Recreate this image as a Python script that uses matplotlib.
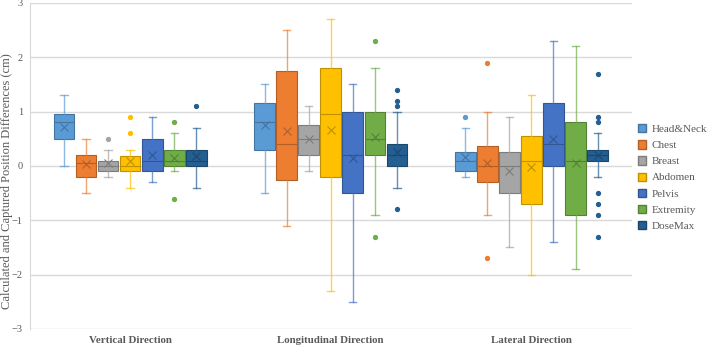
import matplotlib
matplotlib.use("Agg")
import matplotlib.pyplot as plt
from matplotlib.patches import Patch
import matplotlib.colors as mcolors

plt.rcParams['font.family'] = ['Liberation Serif', 'DejaVu Serif']

directions = ["Vertical Direction", "Longitudinal Direction", "Lateral Direction"]
series = ["Head&Neck", "Chest", "Breast", "Abdomen", "Pelvis", "Extremity", "DoseMax"]
colors = ["#5B9BD5", "#ED7D31", "#A5A5A5", "#FFC000", "#4472C4", "#70AD47", "#255E91"]

# per series: values for [Vertical, Longitudinal, Lateral]
whislo = [[0.0, -0.5, -0.2], [-0.5, -1.1, -0.9], [-0.2, -0.1, -1.5], [-0.4, -2.3, -2.0],
          [-0.3, -2.5, -1.4], [-0.1, -0.9, -1.9], [-0.4, -0.4, -0.2]]
q1 = [[0.5, 0.3, -0.1], [-0.2, -0.25, -0.3], [-0.1, 0.2, -0.5], [-0.1, -0.2, -0.7],
      [-0.1, -0.5, 0.0], [0.0, 0.2, -0.9], [0.0, 0.0, 0.1]]
med = [[0.8, 0.8, 0.1], [0.05, 0.4, 0.0], [0.0, 0.5, 0.0], [0.0, 0.95, 0.1],
       [0.1, 0.2, 0.4], [0.1, 0.5, 0.1], [0.1, 0.2, 0.2]]
q3 = [[0.95, 1.15, 0.25], [0.2, 1.74, 0.37], [0.1, 0.75, 0.25], [0.18, 1.8, 0.55],
      [0.5, 1.0, 1.15], [0.3, 1.0, 0.8], [0.3, 0.4, 0.3]]
whishi = [[1.3, 1.5, 0.7], [0.5, 2.5, 1.0], [0.3, 1.1, 0.9], [0.3, 2.7, 1.3],
          [0.9, 1.5, 2.3], [0.6, 1.8, 2.2], [0.7, 1.0, 0.6]]
means = [[0.72, 0.75, 0.16], [0.03, 0.64, 0.05], [0.05, 0.5, -0.1], [0.09, 0.67, -0.01],
         [0.21, 0.14, 0.5], [0.15, 0.54, 0.05], [0.19, 0.25, 0.2]]
outliers = [[[], [], [0.9]], [[], [], [1.9, -1.7]], [[0.5], [], []], [[0.9, 0.6], [], []],
            [[], [], []], [[0.8, -0.6], [2.3, -1.3], []],
            [[1.1], [1.4, 1.2, 1.1, -0.8], [1.7, 0.9, 0.8, -0.5, -0.7, -0.9, -1.3]]]

fig = plt.figure(figsize=(7.09, 3.48), dpi=100)
ax = fig.add_axes([0.042, 0.0546, 0.849, 0.937])

spacing = 0.11
width = 0.103
grey = "#595959"

for i, name in enumerate(series):
    c = colors[i]
    dark = tuple(v * 0.75 for v in mcolors.to_rgb(c))
    stats = []
    for j in range(len(directions)):
        stats.append(dict(whislo=whislo[i][j], q1=q1[i][j], med=med[i][j], q3=q3[i][j],
                          whishi=whishi[i][j], mean=means[i][j], fliers=outliers[i][j]))
    pos = [j + (i - 3) * spacing for j in range(len(directions))]
    ax.bxp(stats, positions=pos, widths=width, patch_artist=True, showmeans=True,
           capwidths=width * 0.35,
           boxprops=dict(facecolor=c, edgecolor=dark, linewidth=0.8),
           whiskerprops=dict(color=c, alpha=0.7, linewidth=1.0),
           capprops=dict(color=c, alpha=0.7, linewidth=1.0),
           medianprops=dict(color=dark, linewidth=0.8),
           meanprops=dict(marker='x', markeredgecolor=dark, markersize=6, markeredgewidth=0.8),
           flierprops=dict(marker='o', markerfacecolor=c, markeredgecolor=c, markersize=2.8),
           manage_ticks=False)

ax.set_xlim(-0.5, 2.5)
ax.set_ylim(-3, 3)
ax.set_yticks(range(-3, 4))
ax.yaxis.grid(True, color="#D9D9D9", linewidth=1.0)
ax.set_axisbelow(True)
for s in ["top", "right", "bottom"]:
    ax.spines[s].set_visible(False)
ax.spines["left"].set_color("#D9D9D9")
ax.tick_params(axis='y', length=0, labelsize=7.5, labelcolor=grey, pad=5)
ax.set_xticks(range(len(directions)))
ax.set_xticklabels(directions, fontsize=7.8, fontweight='bold', color=grey)
ax.tick_params(axis='x', length=0, pad=5)
fig.text(0.0095, 0.48, "Calculated and Captured Position Differences (cm)", rotation=90,
         ha='center', va='center', fontsize=9, color=grey)

handles = [Patch(facecolor=c, edgecolor=tuple(v * 0.75 for v in mcolors.to_rgb(c)), label=n)
           for n, c in zip(series, colors)]
fig.legend(handles=handles, loc='center left', bbox_to_anchor=(0.9, 0.49), frameon=False,
           fontsize=8, labelcolor=grey, handlelength=0.75, handleheight=0.75,
           handletextpad=0.45, labelspacing=0.55, borderpad=0, borderaxespad=0)

fig.savefig("out.png", dpi=100)
